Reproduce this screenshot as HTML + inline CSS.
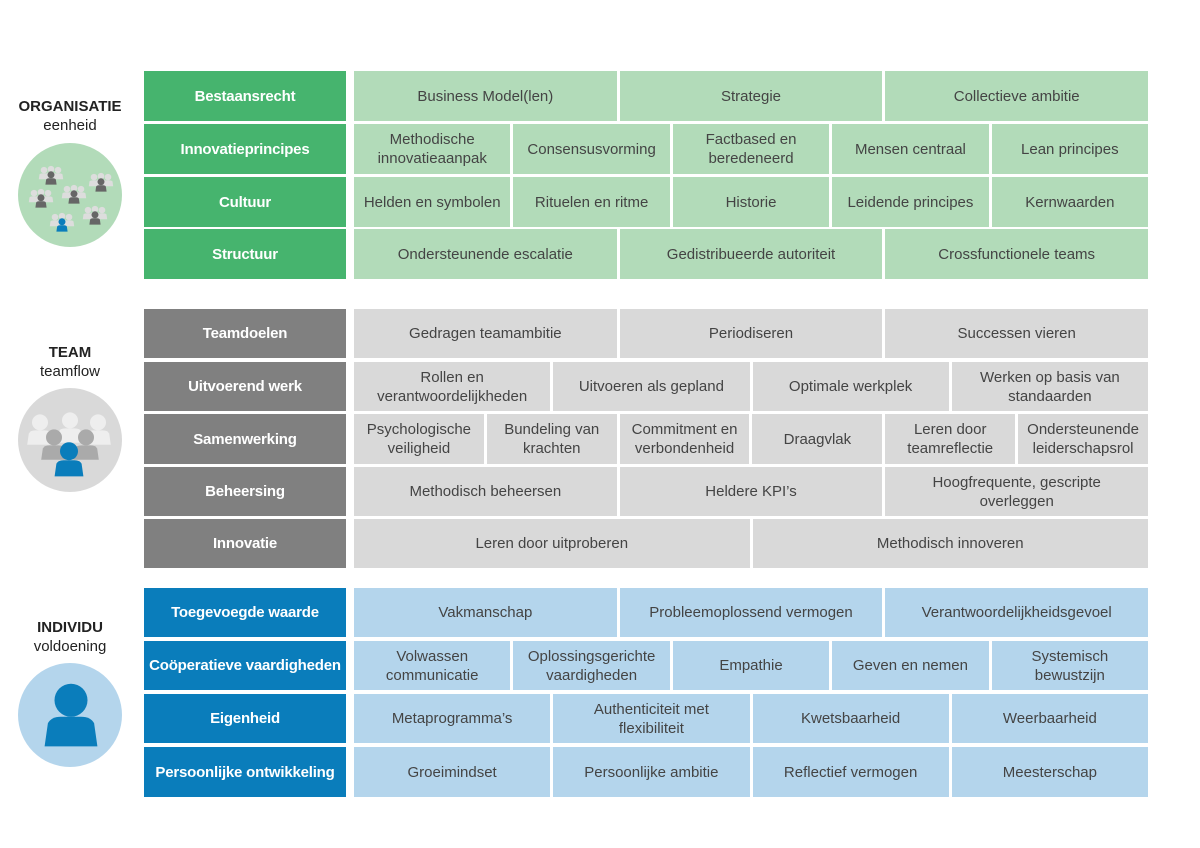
<!DOCTYPE html>
<html><head><meta charset="utf-8"><style>
*{margin:0;padding:0;box-sizing:border-box}
body{width:1200px;height:848px;background:#fff;font-family:"Liberation Sans",sans-serif;position:relative;overflow:hidden}
.row{position:absolute;left:144px;width:1004px;display:flex;gap:3px}
.lab{width:202px;flex:none;color:#fff;font-weight:bold;font-size:15px;display:flex;align-items:center;justify-content:center;text-align:center;margin-right:5px;letter-spacing:-0.2px}
.c{flex:1;display:flex;align-items:center;justify-content:center;text-align:center;font-size:15px;color:#444;line-height:19px}
.g .lab{background:#46b46e}.g .c{background:#b2dbb9}
.t .lab{background:#808080}.t .c{background:#d9d9d9}
.b .lab{background:#0a7dbb}.b .c{background:#b4d5ec}
.h{position:absolute;width:140px;left:0;text-align:center;font-size:15px;color:#222;line-height:19px}
.h b{display:block}
svg{position:absolute}
</style></head><body>

<div class="h" style="top:97px"><b>ORGANISATIE</b>eenheid</div>
<div class="h" style="top:343px"><b>TEAM</b>teamflow</div>
<div class="h" style="top:618px"><b>INDIVIDU</b>voldoening</div>

<svg width="1200" height="848" style="left:0;top:0">
<defs>
<g id="p"><circle cx="0" cy="-6" r="5"/><path d="M-8 8 L-7 1 Q-6 -1 -3 -1 L3 -1 Q6 -1 7 1 L8 8Z"/></g>
<g id="grp"><use href="#p" transform="translate(-7,-2) scale(.65)" fill="#ddd"/><use href="#p" transform="translate(0,-3) scale(.65)" fill="#ddd"/><use href="#p" transform="translate(7,-2) scale(.65)" fill="#ddd"/><use href="#p" transform="translate(0,3) scale(.7)" fill="#666"/></g>
</defs>
<circle cx="70" cy="195" r="52" fill="#b2dbb9"/>
<use href="#grp" transform="translate(51,176)"/>
<use href="#grp" transform="translate(101,183)"/>
<use href="#grp" transform="translate(41,199)"/>
<use href="#grp" transform="translate(74,195)"/>
<use href="#grp" transform="translate(95,216)"/>
<g transform="translate(62,223)"><use href="#p" transform="translate(-7,-2) scale(.65)" fill="#ddd"/><use href="#p" transform="translate(0,-3) scale(.65)" fill="#ddd"/><use href="#p" transform="translate(7,-2) scale(.65)" fill="#ddd"/><use href="#p" transform="translate(0,3) scale(.7)" fill="#0a7dbb"/></g>

<circle cx="70" cy="440" r="52" fill="#d9d9d9"/>
<use href="#p" transform="translate(40,432) scale(1.6)" fill="#eee"/>
<use href="#p" transform="translate(70,430) scale(1.6)" fill="#eee"/>
<use href="#p" transform="translate(98,432) scale(1.6)" fill="#eee"/>
<use href="#p" transform="translate(54,447) scale(1.6)" fill="#aaa"/>
<use href="#p" transform="translate(86,447) scale(1.6)" fill="#aaa"/>
<use href="#p" transform="translate(69,462) scale(1.8)" fill="#0a7dbb"/>

<circle cx="70" cy="715" r="52" fill="#b4d5ec"/>
<use href="#p" transform="translate(71,720) scale(3.3)" fill="#0a7dbb"/>
</svg>

<div class="row g" style="top:71px;height:50px"><div class="lab">Bestaansrecht</div><div class="c">Business Model(len)</div><div class="c">Strategie</div><div class="c">Collectieve ambitie</div></div>
<div class="row g" style="top:124px;height:50px"><div class="lab">Innovatieprincipes</div><div class="c">Methodische<br>innovatieaanpak</div><div class="c">Consensusvorming</div><div class="c">Factbased en<br>beredeneerd</div><div class="c">Mensen centraal</div><div class="c">Lean principes</div></div>
<div class="row g" style="top:177px;height:50px"><div class="lab">Cultuur</div><div class="c">Helden en symbolen</div><div class="c">Rituelen en ritme</div><div class="c">Historie</div><div class="c">Leidende principes</div><div class="c">Kernwaarden</div></div>
<div class="row g" style="top:229px;height:50px"><div class="lab">Structuur</div><div class="c">Ondersteunende escalatie</div><div class="c">Gedistribueerde autoriteit</div><div class="c">Crossfunctionele teams</div></div>

<div class="row t" style="top:309px;height:49px"><div class="lab">Teamdoelen</div><div class="c">Gedragen teamambitie</div><div class="c">Periodiseren</div><div class="c">Successen vieren</div></div>
<div class="row t" style="top:362px;height:49px"><div class="lab">Uitvoerend werk</div><div class="c">Rollen en<br>verantwoordelijkheden</div><div class="c">Uitvoeren als gepland</div><div class="c">Optimale werkplek</div><div class="c">Werken op basis van<br>standaarden</div></div>
<div class="row t" style="top:414px;height:50px"><div class="lab">Samenwerking</div><div class="c">Psychologische<br>veiligheid</div><div class="c">Bundeling van<br>krachten</div><div class="c">Commitment en<br>verbondenheid</div><div class="c">Draagvlak</div><div class="c">Leren door<br>teamreflectie</div><div class="c">Ondersteunende<br>leiderschapsrol</div></div>
<div class="row t" style="top:467px;height:49px"><div class="lab">Beheersing</div><div class="c">Methodisch beheersen</div><div class="c">Heldere KPI’s</div><div class="c">Hoogfrequente, gescripte<br>overleggen</div></div>
<div class="row t" style="top:519px;height:49px"><div class="lab">Innovatie</div><div class="c">Leren door uitproberen</div><div class="c">Methodisch innoveren</div></div>

<div class="row b" style="top:588px;height:49px"><div class="lab">Toegevoegde waarde</div><div class="c">Vakmanschap</div><div class="c">Probleemoplossend vermogen</div><div class="c">Verantwoordelijkheidsgevoel</div></div>
<div class="row b" style="top:641px;height:49px"><div class="lab">Coöperatieve vaardigheden</div><div class="c">Volwassen<br>communicatie</div><div class="c">Oplossingsgerichte<br>vaardigheden</div><div class="c">Empathie</div><div class="c">Geven en nemen</div><div class="c">Systemisch<br>bewustzijn</div></div>
<div class="row b" style="top:694px;height:49px"><div class="lab">Eigenheid</div><div class="c">Metaprogramma’s</div><div class="c">Authenticiteit met<br>flexibiliteit</div><div class="c">Kwetsbaarheid</div><div class="c">Weerbaarheid</div></div>
<div class="row b" style="top:747px;height:50px"><div class="lab">Persoonlijke ontwikkeling</div><div class="c">Groeimindset</div><div class="c">Persoonlijke ambitie</div><div class="c">Reflectief vermogen</div><div class="c">Meesterschap</div></div>

</body></html>
